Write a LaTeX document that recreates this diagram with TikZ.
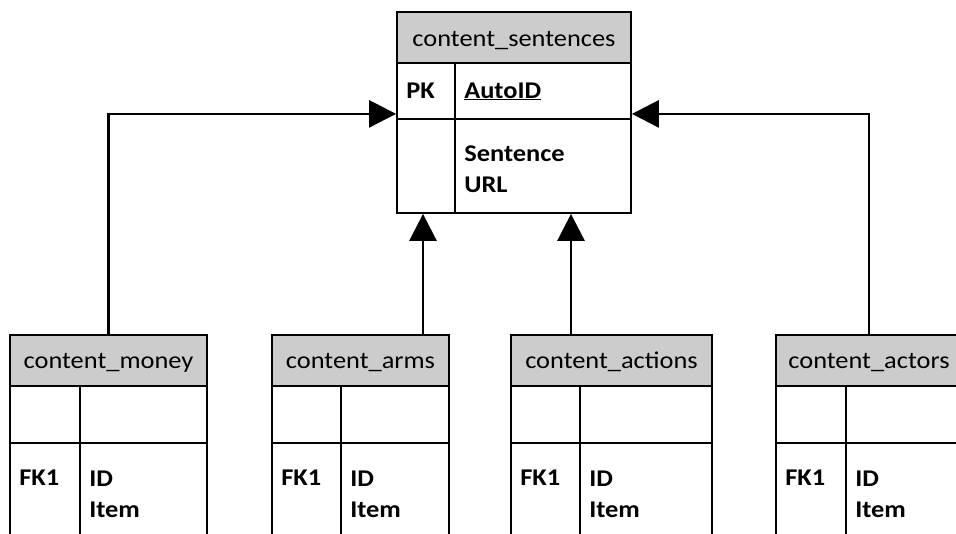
\documentclass[tikz,border=0pt]{standalone}
\usepackage{fontspec}
\setmainfont{Carlito}[FakeStretch=1.1]
\usepackage{tikz}
\usetikzlibrary{arrows.meta, positioning, fit, calc}
\def \tblfont {\fontsize{24}{31}\selectfont}

% one table with a header row, an empty row and a FK1 row
\newcommand{\fktable}[5]{%
	\node[tblhead, fit={(#2,335)(#4,386)}] (#1-head) {};
	\node[titletext] (#1-title) at ([yshift=-8pt]#1-head.center) {#5};
	\node[tblcell, fit={(#2,386)(#3,443)}] (#1-k1) {};
	\node[tblcell, fit={(#3,386)(#4,443)}] (#1-v1) {};
	\node[tblcell, fit={(#2,443)(#3,560)}] (#1-k2) {};
	\node[tblcell, fit={(#3,443)(#4,560)}] (#1-v2) {};
	\node[fieldtext] (#1-fk) at ([shift={(10,43)}]#1-k2.north west) {FK1};
	\node[fieldtext] (#1-fields) at ([shift={(10,75)}]#1-v2.north west) {ID\\Item};
}

\begin{document}
\begin{tikzpicture}[
	  x=1pt, y=-1pt,
	  tblhead/.style={
	  	rectangle,
	  	draw,
	  	fill=black!20,
	  	line width=1.8pt,
	  	inner sep=0pt
	  },
	  tblcell/.style={
	  	rectangle,
	  	draw,
	  	fill=white,
	  	line width=1.8pt,
	  	inner sep=0pt
	  },
	  titletext/.style={
	  	anchor=base,
	  	inner sep=0pt,
	  	font=\tblfont
	  },
	  fieldtext/.style={
	  	anchor=base west,
	  	align=left,
	  	inner sep=0pt,
	  	font=\tblfont\bfseries
	  },
	  link/.style={
	  	line width=2.8pt,
	  	-{Triangle[length=27pt, width=27pt]}
	  }]
	\useasboundingbox (0,0) rectangle (956,533);
	\clip (0,0) rectangle (956,533);

	% Root table
	\node[tblhead, fit={(397,12)(631,63)}] (sent-head) {};
	\node[titletext] (sent-title) at ([yshift=-8.5pt]sent-head.center) {content\_sentences};
	\node[tblcell, fit={(397,63)(455,119)}] (sent-k1) {};
	\node[tblcell, fit={(455,63)(631,119)}] (sent-v1) {};
	\node[tblcell, fit={(397,119)(455,213)}] (sent-k2) {};
	\node[tblcell, fit={(455,119)(631,213)}] (sent-v2) {};
	\node[fieldtext] (sent-pk) at ([shift={(10,36)}]sent-k1.north west) {PK};
	\node[fieldtext] (sent-id) at ([shift={(10,36)}]sent-v1.north west) {\underline{AutoID}};
	\node[fieldtext] (sent-fields) at ([shift={(10,74)}]sent-v2.north west) {Sentence\\URL};

	% Children
	\fktable{money}{10}{80}{207}{content\_money}
	\fktable{arms}{272}{341}{449}{content\_arms}
	\fktable{actions}{511}{580}{712}{content\_actions}
	\fktable{actors}{776}{846}{962}{content\_actors}

	\coordinate (armsx) at (423,0);
	\coordinate (actionsx) at (571,0);

	\draw[link] (money-head.north) |- ([yshift=6pt]sent-k1.south west);
	\draw[link] (actors-head.north) |- ([yshift=6pt]sent-v1.south east);
	\draw[link] (arms-head.north -| armsx) -- (sent-k2.south -| armsx);
	\draw[link] (actions-head.north -| actionsx) -- (sent-v2.south -| actionsx);
\end{tikzpicture}
\end{document}
